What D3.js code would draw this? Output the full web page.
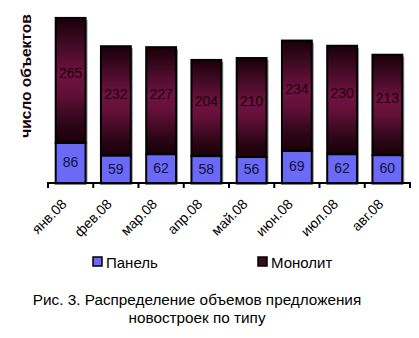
<!DOCTYPE html>
<html>
<head>
<meta charset="utf-8">
<script src="https://cdn.jsdelivr.net/npm/d3@7"></script>
<style>
  html, body { margin: 0; padding: 0; background: #fff; }
  svg { display: block; font-family: Arial, "Liberation Sans", sans-serif; }
</style>
</head>
<body>
<svg id="chart" width="419" height="338"></svg>
<script>
// Monthly counts of new-build offers, stacked by building type
const months = ["янв.08", "фев.08", "мар.08", "апр.08", "май.08", "июн.08", "июл.08", "авг.08"];
const panel = [86, 59, 62, 58, 56, 69, 62, 60];
const monolith = [265, 232, 227, 204, 210, 234, 230, 213];
const seriesNames = ["Панель", "Монолит"];

const svg = d3.select("#chart");

const x = d3.scaleBand().domain(months).range([48, 410]).paddingInner(0.34).paddingOuter(0.17);
const y = d3.scaleLinear().domain([0, 389]).range([183.5, 0]);

// gradient for the monolith segments: dark at the ends, maroon in the middle
const defs = svg.append("defs");
const grad = defs.append("linearGradient").attr("id", "monoGrad")
  .attr("x1", 0).attr("y1", 0).attr("x2", 0).attr("y2", 1);
[[0, "#1a0008"], [0.2, "#3e0a22"], [0.45, "#701242"], [0.6, "#621038"], [0.85, "#2c0616"], [1, "#1a0008"]]
  .forEach(([o, c]) => grad.append("stop").attr("offset", o).attr("stop-color", c));

const rows = months.map((m, i) => ({ m, p: panel[i], mo: monolith[i] }));
const g = svg.append("g");

// soft shadow to the right of each bar
g.selectAll("rect.shadow").data(rows).join("rect")
  .attr("class", "shadow")
  .attr("x", d => x(d.m) + 2)
  .attr("y", d => y(d.p + d.mo) + 2)
  .attr("width", x.bandwidth())
  .attr("height", d => y(0) - y(d.p + d.mo) - 2)
  .attr("fill", "#9a9a9a");

g.selectAll("rect.mono").data(rows).join("rect")
  .attr("class", "mono")
  .attr("x", d => x(d.m))
  .attr("y", d => y(d.p + d.mo))
  .attr("width", x.bandwidth())
  .attr("height", d => y(d.p) - y(d.p + d.mo))
  .attr("fill", "url(#monoGrad)")
  .attr("stroke", "#000").attr("stroke-width", 2);

g.selectAll("rect.panel").data(rows).join("rect")
  .attr("class", "panel")
  .attr("x", d => x(d.m))
  .attr("y", d => y(d.p))
  .attr("width", x.bandwidth())
  .attr("height", d => y(0) - y(d.p))
  .attr("fill", "#6a6af6")
  .attr("stroke", "#000").attr("stroke-width", 2);

// value labels
g.selectAll("text.mlab").data(rows).join("text")
  .attr("class", "mlab")
  .attr("x", d => x(d.m) + x.bandwidth() / 2)
  .attr("y", d => (y(d.p) + y(d.p + d.mo)) / 2 - 2)
  .attr("text-anchor", "middle")
  .attr("font-size", 14).attr("fill", "#1a0008")
  .text(d => d.mo);

g.selectAll("text.plab").data(rows).join("text")
  .attr("class", "plab")
  .attr("x", d => x(d.m) + x.bandwidth() / 2)
  .attr("y", d => (y(0) + y(d.p)) / 2 + 4)
  .attr("text-anchor", "middle")
  .attr("font-size", 14).attr("fill", "#10103a")
  .text(d => d.p);

// category axis with ticks at band boundaries
const axisY = 183;
svg.append("line").attr("x1", 47).attr("x2", 411).attr("y1", axisY).attr("y2", axisY)
  .attr("stroke", "#000").attr("stroke-width", 2);
const bounds = months.map(m => x(m) - x.step() * x.paddingInner() / 2).concat([410]);
bounds[0] = 48;
svg.selectAll("line.tick").data(bounds).join("line")
  .attr("class", "tick")
  .attr("x1", d => d).attr("x2", d => d)
  .attr("y1", axisY).attr("y2", axisY + 5)
  .attr("stroke", "#000").attr("stroke-width", 2);

svg.selectAll("text.cat").data(months).join("text")
  .attr("class", "cat")
  .attr("transform", d => `translate(${x(d) + x.bandwidth() / 2 - 3},${axisY + 22}) rotate(-45)`)
  .attr("text-anchor", "end")
  .attr("font-size", 14).attr("fill", "#000")
  .text(d => d);

// y axis title
svg.append("text")
  .attr("transform", "translate(31,76) rotate(-90)")
  .attr("text-anchor", "middle")
  .attr("font-size", 15.5).attr("font-weight", "bold").attr("fill", "#1a0008")
  .text("число объектов");

// legend
const legendX = [93, 258];
const legendFill = ["#6a6af6", "#3a0a1e"];
const lg = svg.selectAll("g.lg").data(seriesNames).join("g")
  .attr("class", "lg")
  .attr("transform", (d, i) => `translate(${legendX[i]},257)`);
lg.append("rect").attr("width", 9).attr("height", 9)
  .attr("fill", (d, i) => legendFill[i]).attr("stroke", "#000").attr("stroke-width", 1.5);
lg.append("text").attr("x", 13).attr("y", 10.5)
  .attr("font-size", 15).attr("fill", "#000").text(d => d);

// caption
const caption = ["Рис. 3. Распределение объемов предложения", "новостроек по типу"];
svg.selectAll("text.cap").data(caption).join("text")
  .attr("class", "cap")
  .attr("x", 197).attr("y", (d, i) => 305 + i * 18)
  .attr("text-anchor", "middle")
  .attr("font-size", 15.3).attr("fill", "#000")
  .text(d => d);
</script>
</body>
</html>
